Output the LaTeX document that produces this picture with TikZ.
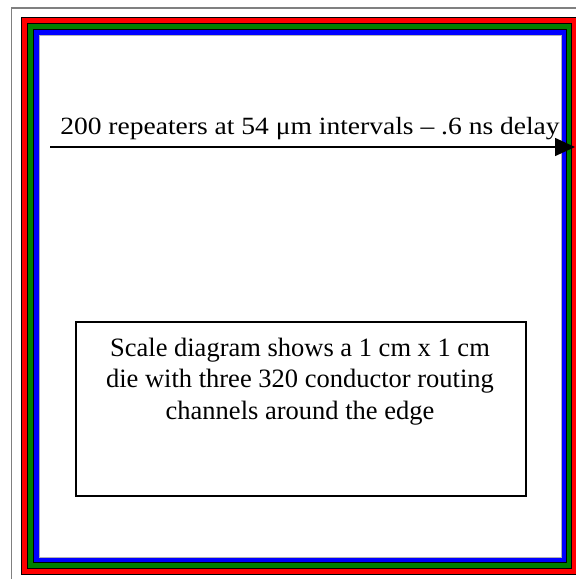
\documentclass[tikz,border=0pt]{standalone}
\usepackage{fontspec}
\setmainfont{Liberation Serif}
\newfontfamily\widefont[FakeStretch=1.11]{Liberation Serif}
\usetikzlibrary{arrows.meta}
\definecolor{bandred}{RGB}{255,0,0}
\definecolor{bandgreen}{RGB}{0,128,0}
\definecolor{bandblue}{RGB}{0,0,255}
\tikzset{
  band/.style={draw=black, line width=0.8pt},
  frame/.style={draw=gray, line width=1.5pt},
  note/.style={draw=black, line width=1.5pt},
  toptxt/.style={font=\widefont\fontsize{24.8}{31}\selectfont, inner sep=0pt},
  txt/.style={font=\fontsize{26.5}{31.5}\selectfont, inner sep=0pt},
  wire/.style={line width=1.5pt, -{Triangle[length=20pt,width=18pt]}}
}
\begin{document}
\begin{tikzpicture}[x=1pt,y=-1pt]
\useasboundingbox (0,0) rectangle (576,579);
\begin{scope}
\clip (0,0) rectangle (576,579);
\fill[white] (0,0) rectangle (576,579);
\draw[frame] (11.5,8) rectangle (590,590);
\draw[band, fill=bandred] (21,17) rectangle (578,574);
\draw[band, fill=bandgreen] (27,23) rectangle (571.5,568);
\draw[band, fill=bandblue] (33,29) rectangle (566,562.5);
\draw[draw=gray!60, line width=0.6pt, fill=white] (39,35) rectangle (561,557);
\end{scope}
\coordinate (a0) at (50,147);
\coordinate (a1) at (575,147);
\draw[wire] (a0) -- (a1);
\node[toptxt, anchor=base] (lbl) at (310,134) {200 repeaters at 54 μm intervals – .6 ns delay};
\node[note, minimum width=450pt, minimum height=174pt, anchor=north west] (box) at (75,321) {};
\node[txt, align=center, anchor=base] (boxtxt) at (300,419) {Scale diagram shows a 1 cm x 1 cm\\die with three 320 conductor routing\\channels around the edge};
\end{tikzpicture}
\end{document}
